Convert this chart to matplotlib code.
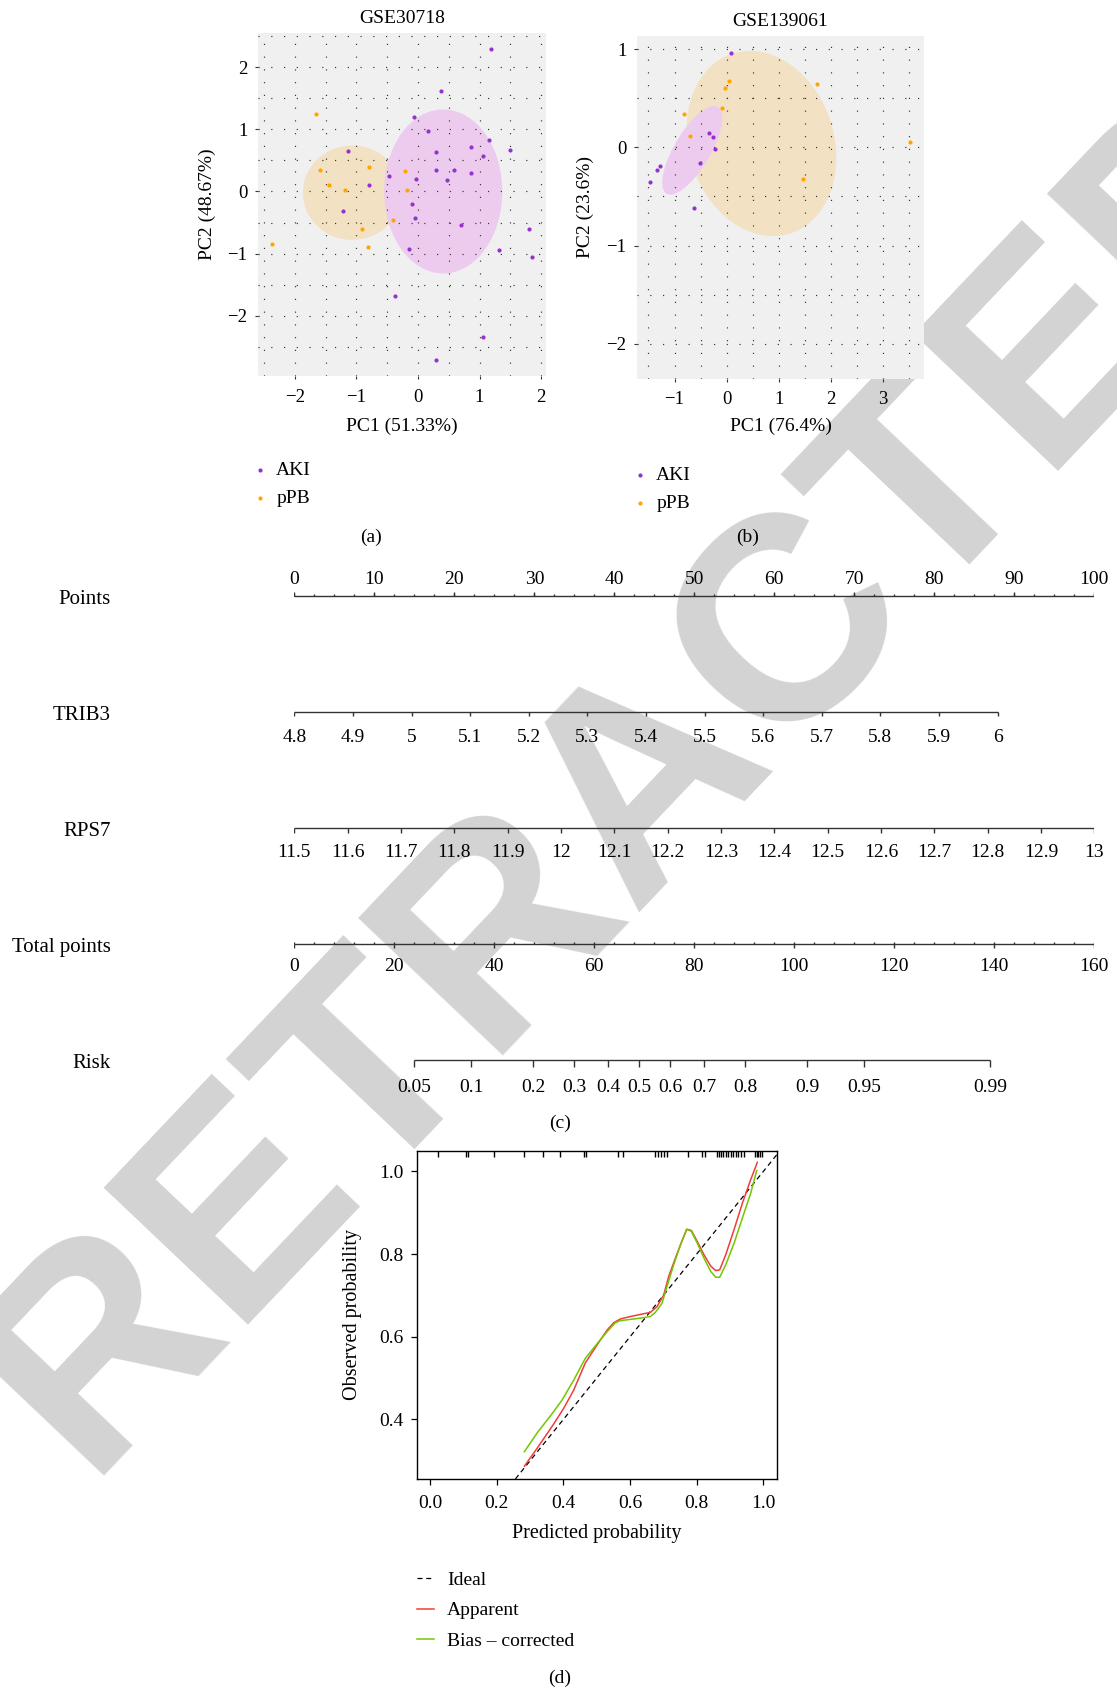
import numpy as np
import matplotlib.pyplot as plt
from matplotlib.patches import Ellipse
from matplotlib.ticker import MultipleLocator

plt.rcParams['font.family'] = ['Liberation Serif', 'DejaVu Serif']
plt.rcParams['font.size'] = 14
plt.rcParams['axes.unicode_minus'] = True

W, H = 1117, 1692          # output size in pixels (dpi 100)

# ─────────────────────────────────────────
# DATA
# ─────────────────────────────────────────
# (a) GSE30718 PCA scores
a_aki_pc1 = [1.19, 0.37, -0.07, 0.17, 1.15, 1.49, 0.86, 0.29, 1.05, -1.13, -0.47, -0.03, 0.30, 0.59,
             0.47, 0.86, -0.79, -1.22, -0.10, -0.05, 0.70, -0.14, 1.31, 1.81, 1.86, -0.38, 1.05, 0.29]
a_aki_pc2 = [2.29, 1.61, 1.20, 0.98, 0.83, 0.67, 0.72, 0.63, 0.57, 0.65, 0.25, 0.20, 0.34, 0.34,
             0.18, 0.29, 0.11, -0.31, -0.20, -0.42, -0.54, -0.92, -0.94, -0.61, -1.06, -1.68, -2.34, -2.71]
a_ppb_pc1 = [-1.65, -1.59, -1.45, -1.19, -0.80, -0.91, -0.81, -2.38, -0.41, -0.21, -0.18]
a_ppb_pc2 = [1.25, 0.35, 0.10, 0.03, 0.40, -0.61, -0.89, -0.84, -0.46, 0.33, 0.03]
# group ellipses: centre x, centre y, width, height, angle (deg)
a_ell_aki = [0.41, 0.00, 1.92, 2.64, 0.0]
a_ell_ppb = [-1.07, -0.02, 1.60, 1.52, 0.0]

# (b) GSE139061 PCA scores
b_aki_pc1 = [0.08, -0.33, -0.27, -0.22, -0.51, -1.27, -1.34, -1.47, -0.63]
b_aki_pc2 = [0.96, 0.15, 0.11, -0.02, -0.16, -0.19, -0.23, -0.35, -0.62]
b_ppb_pc1 = [0.04, -0.04, 1.73, -0.08, -0.82, -0.71, 3.53, 1.47]
b_ppb_pc2 = [0.68, 0.61, 0.65, 0.40, 0.34, 0.12, 0.05, -0.32]
b_ell_aki = [-0.66, -0.03, 1.37, 0.52, 35.7]
b_ell_ppb = [0.67, 0.04, 2.90, 1.85, -9.8]

# (c) nomogram
trib3_ticks = [4.8, 4.9, 5.0, 5.1, 5.2, 5.3, 5.4, 5.5, 5.6, 5.7, 5.8, 5.9, 6.0]
rps7_ticks = [11.5, 11.6, 11.7, 11.8, 11.9, 12.0, 12.1, 12.2, 12.3, 12.4, 12.5, 12.6, 12.7, 12.8, 12.9, 13.0]
points_ticks = [0, 10, 20, 30, 40, 50, 60, 70, 80, 90, 100]
total_ticks = [0, 20, 40, 60, 80, 100, 120, 140, 160]
risk_ticks = [0.05, 0.1, 0.2, 0.3, 0.4, 0.5, 0.6, 0.7, 0.8, 0.9, 0.95, 0.99]
beta_trib3 = 4.79
beta_rps7 = 4.36
lp_at_zero = -4.51           # linear predictor at 0 total points

# (d) calibration curves
app_x = [0.283, 0.321, 0.371, 0.401, 0.431, 0.466, 0.501, 0.531, 0.551, 0.571, 0.601, 0.631, 0.661,
         0.681, 0.701, 0.716, 0.736, 0.757, 0.770, 0.784, 0.802, 0.822, 0.842, 0.857, 0.869, 0.887,
         0.912, 0.937, 0.962, 0.982]
app_y = [0.287, 0.330, 0.389, 0.427, 0.471, 0.537, 0.580, 0.616, 0.634, 0.643, 0.649, 0.654, 0.659,
         0.673, 0.701, 0.746, 0.790, 0.834, 0.860, 0.857, 0.830, 0.798, 0.771, 0.760, 0.762, 0.798,
         0.859, 0.923, 0.980, 1.022]
bc_x = [0.283, 0.321, 0.371, 0.396, 0.431, 0.466, 0.501, 0.531, 0.556, 0.571, 0.601, 0.631, 0.661,
        0.676, 0.696, 0.711, 0.731, 0.751, 0.770, 0.784, 0.802, 0.822, 0.842, 0.857, 0.869, 0.887,
        0.912, 0.937, 0.962, 0.980]
bc_y = [0.322, 0.367, 0.419, 0.447, 0.495, 0.548, 0.583, 0.612, 0.634, 0.639, 0.642, 0.645, 0.649,
        0.659, 0.681, 0.722, 0.774, 0.822, 0.860, 0.855, 0.826, 0.790, 0.758, 0.744, 0.744, 0.774,
        0.826, 0.887, 0.947, 1.002]
rug_pred = [0.025, 0.107, 0.115, 0.193, 0.281, 0.338, 0.391, 0.463, 0.468, 0.563, 0.578, 0.674,
            0.683, 0.693, 0.703, 0.712, 0.775, 0.815, 0.824, 0.862, 0.867, 0.872, 0.879, 0.887,
            0.894, 0.902, 0.909, 0.917, 0.924, 0.932, 0.942, 0.975, 0.980, 0.985, 0.990, 0.995]

AKI_COL = '#9433CC'
PPB_COL = '#FFA500'
AKI_FILL = '#ECCBEF'
PPB_FILL = '#F3E1C4'


def px_rect(x0, y0, x1, y1):
    """pixel box (top-left origin) -> figure fraction rect"""
    return [x0 / W, 1 - y1 / H, (x1 - x0) / W, (y1 - y0) / H]


fig = plt.figure(figsize=(W / 100, H / 100), dpi=100)

# watermark, behind everything
fig.text(647 / W, 1 - 775 / H, 'RETRACTED', rotation=46.5, fontsize=209,
         family='Liberation Sans', fontweight='bold', color='#D3D3D3',
         ha='center', va='center', zorder=-10)


# ─────────────────────────────────────────
# (a) / (b) PCA panels
# ─────────────────────────────────────────
def pca_panel(rect, title, xlab, ylab, aki, ppb, ell_aki, ell_ppb, xlim, ylim,
              xticks, yticks, xlab_y, ylab_x, leg_xy):
    ax = fig.add_axes(rect)
    ax.set_facecolor('#F0F0F0')
    for s in ax.spines.values():
        s.set_visible(False)
    ax.set_axisbelow('line')
    for e, c in ((ell_ppb, PPB_FILL), (ell_aki, AKI_FILL)):
        ax.add_patch(Ellipse((e[0], e[1]), e[2], e[3], angle=e[4],
                             facecolor=c, edgecolor='none', zorder=1))
    ax.scatter(aki[0], aki[1], s=9, color=AKI_COL, lw=0, zorder=3, label='AKI')
    ax.scatter(ppb[0], ppb[1], s=9, color=PPB_COL, lw=0, zorder=3, label='pPB')
    ax.set_xlim(*xlim)
    ax.set_ylim(*ylim)
    ax.set_xticks(xticks)
    ax.set_yticks(yticks)
    ax.xaxis.set_minor_locator(MultipleLocator(0.5))
    ax.yaxis.set_minor_locator(MultipleLocator(0.5))
    ax.grid(which='both', color='#333333', linestyle=(0, (1, 9.8)), linewidth=0.85)
    ax.tick_params(which='major', length=2, width=0.8, color='#333333', pad=5.5,
                   labelsize=13.5)
    ax.tick_params(axis='x', which='major', pad=7)
    ax.tick_params(which='minor', length=0)
    ax.set_title(title, fontsize=14, pad=7)
    ax.set_xlabel(xlab, fontsize=14)
    ax.set_ylabel(ylab, fontsize=14)
    ax.xaxis.set_label_coords(0.5, xlab_y)
    ax.xaxis.label.set_va('center')
    ax.yaxis.set_label_coords(ylab_x, 0.5)
    ax.yaxis.label.set_va('center')
    ax.legend(loc='upper left', bbox_to_anchor=(leg_xy[0] / W, 1 - leg_xy[1] / H),
              bbox_transform=fig.transFigure, frameon=False, borderpad=0,
              borderaxespad=0, handlelength=1.0, handletextpad=0.35,
              labelspacing=0.56, fontsize=14, scatterpoints=1)
    return ax


pca_panel(px_rect(258, 33, 546, 376), 'GSE30718', 'PC1 (51.33%)', 'PC2 (48.67%)',
          (a_aki_pc1, a_aki_pc2), (a_ppb_pc1, a_ppb_pc2), a_ell_aki, a_ell_ppb,
          (-2.6, 2.08), (-2.97, 2.55), [-2, -1, 0, 1, 2], [-2, -1, 0, 1, 2],
          -0.146, -0.177, (250, 461))

pca_panel(px_rect(637, 36, 924, 379), 'GSE139061', 'PC1 (76.4%)', 'PC2 (23.6%)',
          (b_aki_pc1, b_aki_pc2), (b_ppb_pc1, b_ppb_pc2), b_ell_aki, b_ell_ppb,
          (-1.72, 3.79), (-2.36, 1.135), [-1, 0, 1, 2, 3], [-2, -1, 0, 1],
          -0.137, -0.181, (630, 466))

fig.text(371 / W, 1 - 537 / H, '(a)', ha='center', va='center', fontsize=14)
fig.text(748 / W, 1 - 537 / H, '(b)', ha='center', va='center', fontsize=14)

# ─────────────────────────────────────────
# (c) nomogram
# ─────────────────────────────────────────
ROW_PX = 115.9
axn = fig.add_axes(px_rect(294.3, 596 - 0.5 * ROW_PX, 1094.4, 596 + 4.5 * ROW_PX))
axn.set_facecolor('none')
axn.set_xlim(0, 100)
axn.set_ylim(4.5, -0.5)
axn.axis('off')

LINE_C = '#333333'
max_effect = max(beta_trib3 * (trib3_ticks[-1] - trib3_ticks[0]),
                 beta_rps7 * (rps7_ticks[-1] - rps7_ticks[0]))


def to_pts(v, beta, vmin):
    return beta * (np.asarray(v) - vmin) / max_effect * 100


def tot_to_x(tp):
    return np.asarray(tp) * 100 / total_ticks[-1]


def risk_to_x(r):
    r = np.asarray(r)
    tp = (np.log(r / (1 - r)) - lp_at_zero) / (max_effect / 100)
    return tot_to_x(tp)


def nomo_row(row, label, xs, labels, tick_px, lab_px, minor_xs=None, minor_px=0):
    axn.plot([xs[0], xs[-1]], [row, row], color=LINE_C, lw=1.0, solid_capstyle='butt')
    axn.vlines(xs, row, row + tick_px / ROW_PX, color=LINE_C, lw=1.0)
    if minor_xs is not None:
        axn.vlines(minor_xs, row, row + minor_px / ROW_PX, color=LINE_C, lw=1.0)
    for x, t in zip(xs, labels):
        axn.text(x, row + lab_px / ROW_PX, t, ha='center', va='center', fontsize=14)
    axn.text(-22.9, row + 3.5 / ROW_PX, label, ha='right', va='center', fontsize=15,
             clip_on=False)


nomo_row(0, 'Points', np.array(points_ticks, float), [str(v) for v in points_ticks],
         -4.3, -16.5, minor_xs=np.arange(0, 100.1, 2.5), minor_px=-2)
nomo_row(1, 'TRIB3', to_pts(trib3_ticks, beta_trib3, trib3_ticks[0]),
         [f'{v:g}' for v in trib3_ticks], 4.3, 25.5)
nomo_row(2, 'RPS7', to_pts(rps7_ticks, beta_rps7, rps7_ticks[0]),
         [f'{v:g}' for v in rps7_ticks], 5, 25)
nomo_row(3, 'Total points', tot_to_x(total_ticks), [str(v) for v in total_ticks],
         4.3, 23, minor_xs=tot_to_x(np.arange(0, 160.1, 4)), minor_px=-2)
nomo_row(4, 'Risk', risk_to_x(risk_ticks), [f'{v:g}' for v in risk_ticks], 7.5, 27.5)

fig.text(560 / W, 1 - 1123 / H, '(c)', ha='center', va='center', fontsize=14)

# ─────────────────────────────────────────
# (d) calibration curve
# ─────────────────────────────────────────
axc = fig.add_axes(px_rect(416.7, 1150.7, 776.7, 1479))
axc.set_facecolor('none')
axc.axline((0, 0), slope=1, color='black', lw=0.9, linestyle=(0, (4, 3)), label='Ideal')
axc.plot(app_x, app_y, color='#F23C3C', lw=1.1, label='Apparent')
axc.plot(bc_x, bc_y, color='#72C700', lw=1.1, label='Bias \u2013 corrected')
axc.vlines(rug_pred, 1 - 6 / 328.3, 1, transform=axc.get_xaxis_transform(),
           color='black', lw=1.0)
axc.set_xlim(-0.04, 1.04)
axc.set_ylim(0.256, 1.05)
axc.set_xticks([0.0, 0.2, 0.4, 0.6, 0.8, 1.0])
axc.set_xticklabels(['0.0', '0.2', '0.4', '0.6', '0.8', '1.0'])
axc.set_yticks([0.4, 0.6, 0.8, 1.0])
axc.set_yticklabels(['0.4', '0.6', '0.8', '1.0'])
axc.tick_params(length=4.5, width=0.9, pad=5, labelsize=14)
axc.tick_params(axis='x', pad=7)
for s in axc.spines.values():
    s.set_linewidth(1.0)
axc.set_xlabel('Predicted probability', fontsize=14.5)
axc.set_ylabel('Observed probability', fontsize=14.5)
axc.xaxis.set_label_coords(0.5, -0.167)
axc.xaxis.label.set_va('center')
axc.yaxis.set_label_coords(-0.177, 0.5)
axc.yaxis.label.set_va('center')

axc.legend(loc='upper left', bbox_to_anchor=(417 / W, 1 - 1571 / H),
           bbox_transform=fig.transFigure, frameon=False, borderpad=0,
           borderaxespad=0, handlelength=0.85, handletextpad=0.7,
           labelspacing=0.68, fontsize=14)

fig.text(560 / W, 1 - 1678 / H, '(d)', ha='center', va='center', fontsize=14)

fig.savefig('out.png', dpi=100)
